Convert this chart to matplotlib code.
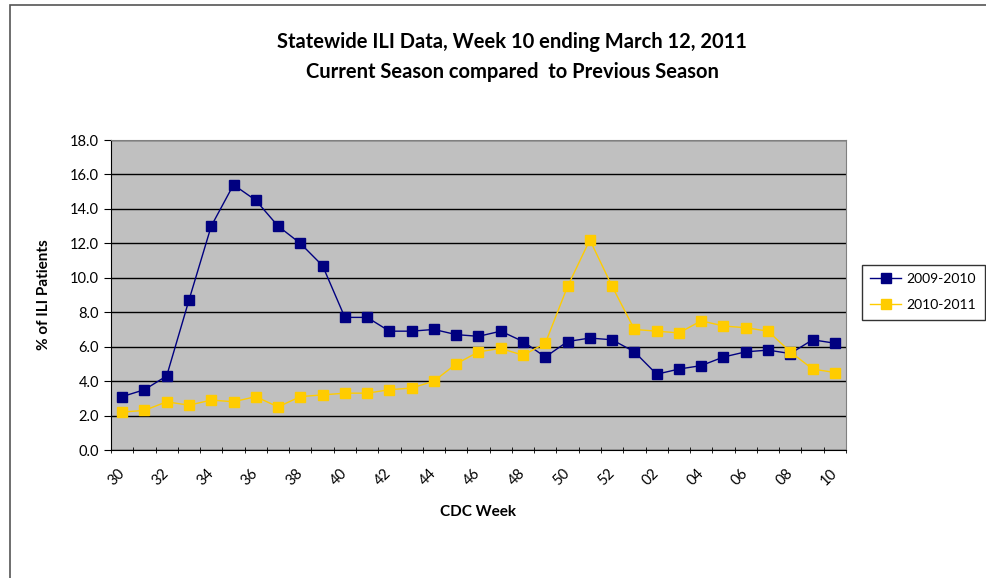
import matplotlib
matplotlib.use("Agg")
import matplotlib.pyplot as plt
from matplotlib.patches import Rectangle

weeks = ["30","31","32","33","34","35","36","37","38","39","40","41","42","43","44","45","46",
         "47","48","49","50","51","52","01","02","03","04","05","06","07","08","09","10"]
s0910 = [3.1,3.5,4.3,8.7,13.0,15.4,14.5,13.0,12.0,10.7,7.7,7.7,6.9,6.9,7.0,6.7,6.6,
         6.9,6.3,5.4,6.3,6.5,6.4,5.7,4.4,4.7,4.9,5.4,5.7,5.8,5.6,6.4,6.2]
s1011 = [2.2,2.3,2.8,2.6,2.9,2.8,3.1,2.5,3.1,3.2,3.3,3.3,3.5,3.6,4.0,5.0,5.7,
         5.9,5.5,6.2,9.5,12.2,9.5,7.0,6.9,6.8,7.5,7.2,7.1,6.9,5.7,4.7,4.5]
labels = ["2009-2010", "2010-2011"]
yticks = [0,2,4,6,8,10,12,14,16,18]

plt.rcParams['font.family'] = ['Lato', 'DejaVu Sans']

fig = plt.figure(figsize=(9.86, 5.78), dpi=100)
fig.patches.append(Rectangle((10/986, -0.1), 1.2, 1 - 5/578 + 0.1, transform=fig.transFigure,
                             fill=False, edgecolor='#555555', linewidth=1.2))

ax = fig.add_axes([111/986, 1-450/578, (846-111)/986, (450-140)/578])
ax.set_facecolor('#C0C0C0')
x = list(range(len(weeks)))
ax.plot(x, s0910, color='#000080', marker='s', markersize=7.5, linewidth=1.0,
        label=labels[0], zorder=3)
ax.plot(x, s1011, color='#FFCC00', marker='s', markersize=7.5, linewidth=1.0,
        label=labels[1], zorder=3)

ax.set_xlim(-0.5, len(weeks) - 0.5)
ax.set_ylim(0, 18)
ax.set_yticks(yticks)
ax.set_yticklabels([f"{v:.1f}" for v in yticks], fontsize=10.5)
ax.yaxis.grid(True, color='black', linewidth=1.0)
ax.set_axisbelow(True)

major = list(range(0, len(weeks), 2))
ax.set_xticks(major)
ax.set_xticklabels([weeks[i] for i in major], rotation=45, fontsize=10.5,
                   ha='right', va='center', rotation_mode='anchor')
ax.set_xticks([i - 0.5 for i in range(len(weeks) + 1)], minor=True)
ax.tick_params(axis='x', which='major', length=0, pad=15)
ax.tick_params(axis='x', which='minor', length=5, direction='inout', color='black')
ax.tick_params(axis='y', length=5, direction='out', color='black')

for s in ['top', 'right']:
    ax.spines[s].set_color('#808080')
for s in ['left', 'bottom']:
    ax.spines[s].set_color('black')

ax.set_ylabel("% of ILI Patients", fontsize=11, fontweight='bold', labelpad=14)
ax.set_xlabel("CDC Week", fontsize=11, fontweight='bold', labelpad=12)

fig.text(512/986, 1-42/578, "Statewide ILI Data, Week 10 ending March 12, 2011",
         ha='center', va='center', fontsize=14.5, fontweight='bold')
fig.text(512/986, 1-72/578, "Current Season compared  to Previous Season",
         ha='center', va='center', fontsize=14.5, fontweight='bold')

leg = fig.legend(loc='upper left', bbox_to_anchor=(862/986, 1-265/578), fontsize=10,
                 frameon=True, fancybox=False, edgecolor='black', borderpad=0.6,
                 handlelength=2.2, handletextpad=0.4, labelspacing=1.0, borderaxespad=0)
leg.get_frame().set_linewidth(1.0)

fig.savefig("out.png", dpi=100)
